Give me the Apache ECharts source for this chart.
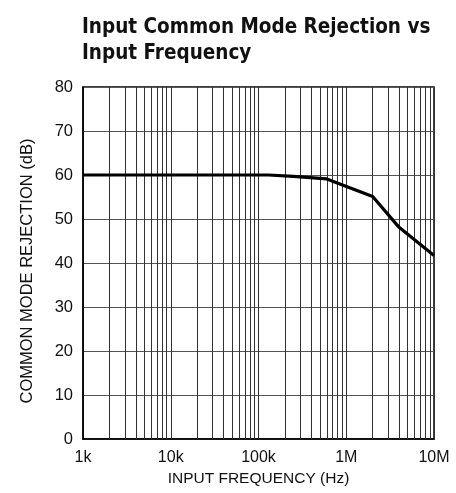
<!DOCTYPE html>
<html>
<head>
<meta charset="utf-8">
<script src="https://cdn.jsdelivr.net/npm/echarts@6/dist/echarts.min.js"></script>
<style>html,body{margin:0;padding:0;background:#fff}#c{width:456px;height:493px}</style>
</head>
<body>
<div id="c"></div>
<script>
// Data
var freqHz = [1000, 10000, 50000, 130000, 250000, 600000, 2000000, 4000000, 10000000];
var cmrDb  = [60, 60, 60, 60, 59.7, 59.1, 55.1, 48.1, 41.7];
var decadeLabels = {1000: '1k', 10000: '10k', 100000: '100k', 1000000: '1M', 10000000: '10M'};
var minorMultipliers = [2, 3, 4, 5, 6, 7, 8, 9];
var decades = [1000, 10000, 100000, 1000000];

var minorLines = [];
decades.forEach(function (d) {
  minorMultipliers.forEach(function (m) { minorLines.push({ xAxis: d * m }); });
});

var chart = echarts.init(document.getElementById('c'), null, { renderer: 'canvas' });
chart.setOption({
  animation: false,
  title: {
    text: 'Input Common Mode Rejection vs\nInput Frequency',
    left: 77, top: 10,
    textStyle: { fontFamily: 'DejaVu Sans Condensed', fontWeight: 'bold', fontSize: 20.5, lineHeight: 26, color: '#111' }
  },
  grid: { left: 83, right: 22, top: 87, bottom: 54, show: true, borderColor: '#000', borderWidth: 1.5, backgroundColor: 'transparent' },
  xAxis: {
    type: 'log', logBase: 10, min: 1000, max: 10000000,
    name: 'INPUT FREQUENCY (Hz)', nameLocation: 'middle', nameGap: 31,
    nameTextStyle: { fontFamily: 'Liberation Sans', fontSize: 15.5, color: '#111' },
    axisLine: { show: true, lineStyle: { color: '#000', width: 1.5 } },
    axisTick: { show: false },
    axisLabel: { margin: 11, fontFamily: 'Liberation Sans', fontSize: 16, color: '#111',
      formatter: function (v) { return decadeLabels[Math.round(v)] || ''; } },
    splitLine: { show: true, lineStyle: { color: '#333', width: 1 } }
  },
  yAxis: {
    type: 'value', min: 0, max: 80, interval: 10,
    name: 'COMMON MODE REJECTION (dB)', nameLocation: 'middle', nameGap: 47,
    nameTextStyle: { fontFamily: 'Liberation Sans', fontSize: 16.5, color: '#111', padding: [0, 16, 0, 0] },
    axisLine: { show: true, lineStyle: { color: '#000', width: 1.5 } },
    axisTick: { show: false },
    axisLabel: { margin: 10, fontFamily: 'Liberation Sans', fontSize: 16.5, color: '#111' },
    splitLine: { show: true, lineStyle: { color: '#555', width: 1 } }
  },
  series: [{
    type: 'line',
    data: freqHz.map(function (f, i) { return [f, cmrDb[i]]; }),
    symbol: 'none',
    lineStyle: { color: '#000', width: 3.2 },
    z: 5,
    markLine: {
      silent: true, symbol: 'none', label: { show: false },
      lineStyle: { color: '#333', width: 1, type: 'solid' },
      data: minorLines, animation: false
    }
  }]
});
</script>
</body>
</html>
